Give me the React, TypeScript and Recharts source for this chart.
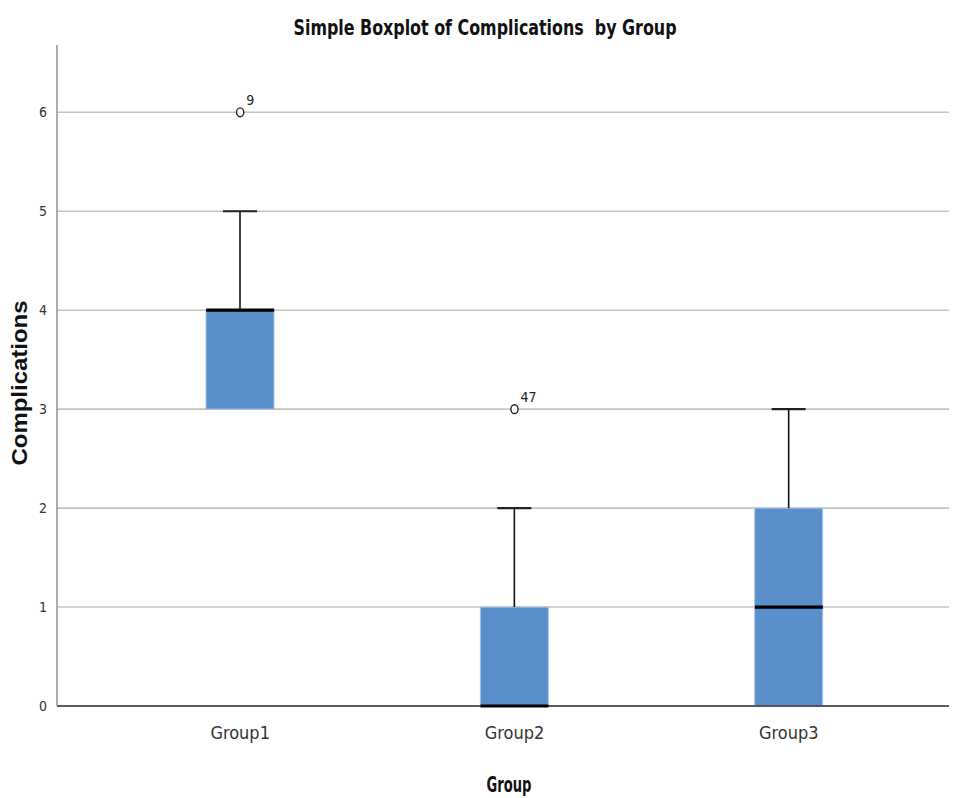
import React from "react";
import {Bar, CartesianGrid, ComposedChart, Label, Scatter, XAxis, YAxis} from "recharts";

const groups = ["Group1", "Group2", "Group3"];
const whiskerLow = [3, 0, 0];
const q1 = [3, 0, 0];
const medians = [4, 0, 1];
const q3 = [4, 1, 2];
const whiskerHigh = [5, 2, 3];
const outliers = [6, 3, null];
const outlierCases = ["9", "47", ""];
const yTicks = [0, 1, 2, 3, 4, 5, 6];

const rows = groups.map((g, i) => ({
    group: g,
    base: whiskerLow[i],
    lower: q1[i] - whiskerLow[i],
    box: q3[i] - q1[i],
    upper: whiskerHigh[i] - q3[i],
    median: medians[i],
    outlier: outliers[i],
    caseId: outlierCases[i],
}));

const NARROW = "'Liberation Sans Narrow', 'Arial Narrow', 'DejaVu Sans Condensed', sans-serif";
const BOX_W = 68;

const UpperWhisker = (props: any) => {
    const {x, y, width, height} = props;
    if (!height || height <= 0) return null;
    const cx = x + width / 2;
    return (
        <g>
            <line x1={cx} y1={y} x2={cx} y2={y + height} stroke="#111" strokeWidth={1.6}/>
            <line x1={cx - width / 4} y1={y} x2={cx + width / 4} y2={y} stroke="#222" strokeWidth={2.2}/>
        </g>
    );
};

const LowerWhisker = (props: any) => {
    const {x, y, width, height} = props;
    if (!height || height <= 0) return null;
    const cx = x + width / 2;
    return (
        <g>
            <line x1={cx} y1={y} x2={cx} y2={y + height} stroke="#111" strokeWidth={1.6}/>
            <line x1={cx - width / 4} y1={y + height} x2={cx + width / 4} y2={y + height} stroke="#222" strokeWidth={2.2}/>
        </g>
    );
};

const MedianLine = (props: any) => {
    const {cx, cy} = props;
    if (cx == null || cy == null || isNaN(cy)) return null;
    return <line x1={cx - BOX_W / 2} y1={cy} x2={cx + BOX_W / 2} y2={cy} stroke="#000" strokeWidth={3.2}/>;
};

const OutlierMark = (props: any) => {
    const {cx, cy, payload} = props;
    if (!payload || payload.outlier == null || cy == null || isNaN(cy)) return null;
    return (
        <g>
            <ellipse cx={cx} cy={cy} rx={3.6} ry={4.4} fill="#fff" stroke="#222" strokeWidth={1.4}/>
            <text x={cx + 6} y={cy - 7} fontSize={14} fontFamily={NARROW} fill="#222">{payload.caseId}</text>
        </g>
    );
};

export default function App() {
    return (
        <div style={{position: "absolute", left: 0, top: 0, width: 959, height: 798, background: "#fff"}}>
            <ComposedChart width={959} height={798} data={rows}
                           margin={{top: 45, right: 10, bottom: 32, left: 0}}>
                <CartesianGrid vertical={false} horizontalValues={yTicks} stroke="#c4c4c4" strokeWidth={1.6}/>
                <XAxis dataKey="group"
                       padding={{left: 46, right: 23}}
                       height={60}
                       tickLine={false}
                       axisLine={{stroke: "#333", strokeWidth: 1.4}}
                       tick={{fontFamily: NARROW, fontSize: 18, fill: "#333"}}
                       tickMargin={14}
                >
                    <Label content={() => (
                        <g>
                            <text x={485} y={35} textAnchor="middle" fontFamily={NARROW} fontWeight="bold"
                                  fontSize={21} fill="#111" textLength={383} lengthAdjust="spacingAndGlyphs"
                                  style={{whiteSpace: "pre"}}>
                                {"Simple Boxplot of Complications  by Group"}
                            </text>
                            <text x={509} y={792} textAnchor="middle" fontFamily={NARROW} fontWeight="bold"
                                  fontSize={21} fill="#111" textLength={45} lengthAdjust="spacingAndGlyphs">Group</text>
                        </g>
                    )}/>
                </XAxis>
                <YAxis domain={[0, 6.68]}
                       ticks={yTicks}
                       width={57}
                       tickLine={false}
                       axisLine={{stroke: "#8a8a8a", strokeWidth: 1.4}}
                       tick={{fontFamily: NARROW, fontSize: 14, fill: "#333"}}
                       tickMargin={4}
                >
                    <Label content={() => (
                        <text x={27} y={383} transform="rotate(-90 27 383)" textAnchor="middle"
                              fontFamily="'Liberation Sans', Arial, sans-serif" fontWeight="bold"
                              fontSize={22} fill="#111" textLength={165} lengthAdjust="spacingAndGlyphs">Complications</text>
                    )}/>
                </YAxis>
                <Bar dataKey="base" stackId="b" fill="transparent" barSize={BOX_W} isAnimationActive={false}/>
                <Bar dataKey="lower" stackId="b" barSize={BOX_W} shape={LowerWhisker} isAnimationActive={false}/>
                <Bar dataKey="box" stackId="b" barSize={BOX_W} fill="#5b8fcb" stroke="#a9c6e8" strokeWidth={1}
                     isAnimationActive={false}/>
                <Bar dataKey="upper" stackId="b" barSize={BOX_W} shape={UpperWhisker} isAnimationActive={false}/>
                <Scatter dataKey="median" shape={MedianLine} isAnimationActive={false}/>
                <Scatter dataKey="outlier" shape={OutlierMark} isAnimationActive={false}/>
            </ComposedChart>
        </div>
    );
}
